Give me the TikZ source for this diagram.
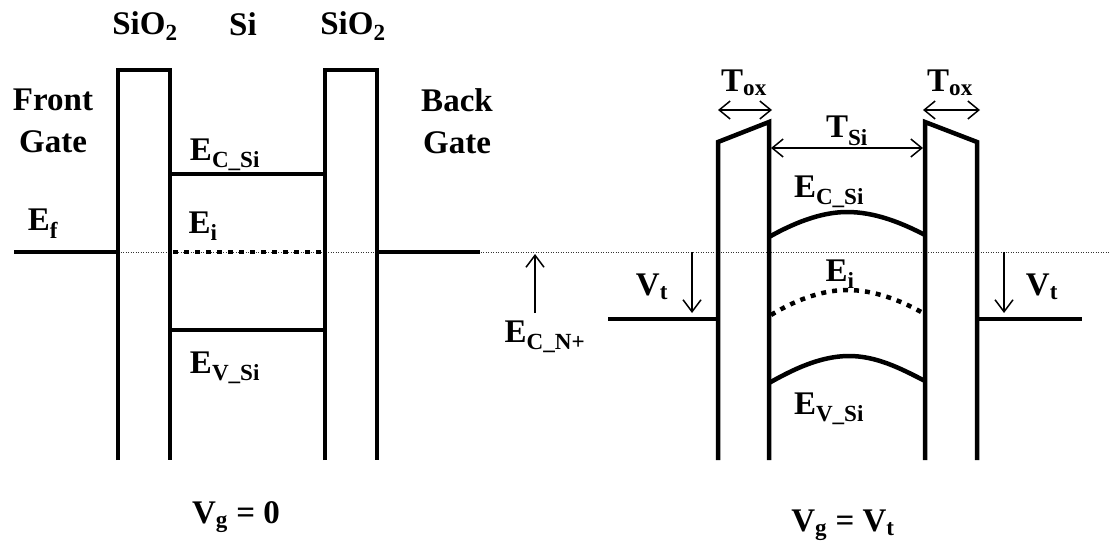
\documentclass[tikz,border=0pt]{standalone}
\usepackage{fontspec}
\setmainfont{Liberation Serif}
\usetikzlibrary{arrows.meta}
\tikzset{
	band/.style={line width=4.5pt},
	fermi/.style={line width=1pt, dash pattern=on 1pt off 1.5pt, black!80},
	eidots/.style={line width=4.5pt, dash pattern=on 5pt off 6pt},
	tarrow/.style={line width=1.5pt, {Straight Barb[length=11pt,width=18pt]}-{Straight Barb[length=11pt,width=18pt]}},
	varrow/.style={line width=1.5pt, -{Straight Barb[length=12pt,width=18pt]}},
	lbl/.style={inner sep=0pt, align=center, font=\fontsize{33}{42}\selectfont\bfseries}
}
\begin{document}
\begin{tikzpicture}[x=1pt,y=-1pt]
\useasboundingbox (0,0) rectangle (1109,544);
\draw[fermi] (118,252) -- (1109,252);

% V_g = 0
\foreach \x in {118,325}
{
	\draw[band] (\x,460) -- (\x,70) -- (\x+52,70) -- (\x+52,460);
}
\draw[band] (14,252) -- (118,252);
\draw[band] (377,252) -- (480,252);
\draw[band] (170,174) -- (325,174);
\draw[band] (170,330) -- (325,330);
\draw[eidots] (173,252) -- (323,252);
\node[lbl] (sio2l) at (145,26) {SiO\textsubscript{2}};
\node[lbl] (si) at (243,24) {Si};
\node[lbl] (sio2r) at (353,26) {SiO\textsubscript{2}};
\node[lbl] (front) at (53,121) {Front\\Gate};
\node[lbl] (back) at (457,121) {Back\\Gate};
\node[lbl] (ef) at (43,224) {E\textsubscript{f}};
\node[lbl] (ecl) at (225,155) {E\textsubscript{C\_Si}};
\node[lbl] (eil) at (203,226) {E\textsubscript{i}};
\node[lbl] (evl) at (225,368) {E\textsubscript{V\_Si}};
\node[lbl] (vg0) at (236,517) {V\textsubscript{g} = 0};

% N+ gate level
\node[lbl] (ecn) at (545,337) {E\textsubscript{C\_N+}};
\draw[varrow] (535,313) -- (535,254);

% V_g = V_t
\draw[band] (718,460) -- (718,142) -- (769,122) -- (769,460);
\draw[band] (925,460) -- (925,122) -- (977,142) -- (977,460);
\draw[band] (608,319) -- (718,319);
\draw[band] (977,319) -- (1082,319);
\draw[band] (769,237) .. controls (792,224) and (820,212) .. (847,212) .. controls (874,212) and (900,222) .. (925,235);
\draw[eidots] (771,315) .. controls (792,302) and (820,290) .. (847,290) .. controls (874,290) and (900,300) .. (923,313);
\draw[band] (769,383) .. controls (792,370) and (820,356) .. (849,356) .. controls (876,356) and (900,368) .. (925,381);
\draw[tarrow] (718,110) -- (772,110);
\draw[tarrow] (923,110) -- (980,110);
\draw[tarrow] (771,148) -- (923,148);
\draw[varrow] (692,252) -- (692,313);
\draw[varrow] (1004,252) -- (1004,313);
\node[lbl] (toxl) at (744,83) {T\textsubscript{ox}};
\node[lbl] (toxr) at (950,83) {T\textsubscript{ox}};
\node[lbl] (tsi) at (847,131) {T\textsubscript{Si}};
\node[lbl] (ecr) at (829,192) {E\textsubscript{C\_Si}};
\node[lbl] (eir) at (840,274) {E\textsubscript{i}};
\node[lbl] (evr) at (829,409) {E\textsubscript{V\_Si}};
\node[lbl] (vtl) at (652,287) {V\textsubscript{t}};
\node[lbl] (vtr) at (1042,287) {V\textsubscript{t}};
\node[lbl] (vgvt) at (843,525) {V\textsubscript{g} = V\textsubscript{t}};
\end{tikzpicture}
\end{document}
